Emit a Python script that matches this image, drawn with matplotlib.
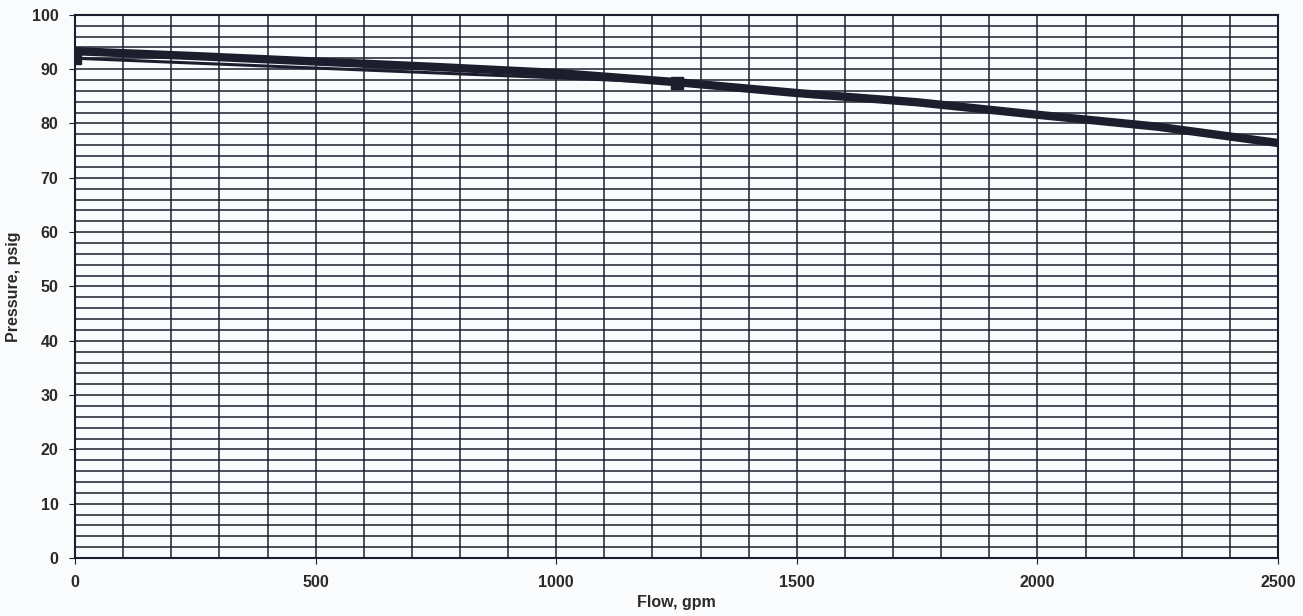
import numpy as np
import matplotlib
matplotlib.use('Agg')
import matplotlib.pyplot as plt

# Curva da bomba (leitura do gráfico)
vazao = [0, 250, 500, 750, 1000, 1250, 1500, 1750, 2000, 2250, 2500]
pressao = [93.3, 92.4, 91.4, 90.4, 89.3, 87.6, 85.6, 83.9, 81.6, 79.4, 76.4]

# Pontos medidos (marcadores)
vazao_pts = [0, 1250]
pressao_pts = [92.0, 87.5]

plt.rcParams['font.family'] = ['Liberation Sans', 'DejaVu Sans']

fig = plt.figure(figsize=(13.03, 6.16), dpi=100)
fig.patch.set_facecolor('#f9fbfd')
ax = fig.add_axes([0.0576, 0.094, 0.9232, 0.882])
ax.set_facecolor('#f9fbfd')

tinta = '#1c1e2e'

# Grade: 100 gpm x 2 psig
ax.set_xticks(np.arange(0, 2501, 100), minor=True)
ax.set_yticks(np.arange(0, 101, 2), minor=True)
ax.grid(which='minor', color=tinta, linewidth=1.1)
ax.grid(which='major', color=tinta, linewidth=1.1)

ax.plot(vazao_pts, pressao_pts, color=tinta, linewidth=2.2, marker='s',
        markersize=8, zorder=3)
ax.plot(vazao, pressao, color=tinta, linewidth=6, solid_capstyle='butt', zorder=4)

ax.set_xlim(0, 2500)
ax.set_ylim(0, 100)
ax.set_xticks(np.arange(0, 2501, 500))
ax.set_yticks(np.arange(0, 101, 10))
ax.tick_params(which='minor', length=0)
ax.tick_params(which='major', direction='out', length=4, color=tinta,
               labelsize=11.5, labelcolor='#2a2a2a', pad=8)
for t in ax.get_xticklabels() + ax.get_yticklabels():
    t.set_fontweight('bold')
for s in ax.spines.values():
    s.set_color(tinta)
    s.set_linewidth(1.5)

ax.set_xlabel('Flow, gpm', fontsize=11.5, fontweight='bold', color='#2a2a2a', labelpad=4)
ax.set_ylabel('Pressure, psig', fontsize=11.5, fontweight='bold', color='#2a2a2a', labelpad=8)

plt.savefig('out.png', dpi=100, facecolor=fig.get_facecolor())
